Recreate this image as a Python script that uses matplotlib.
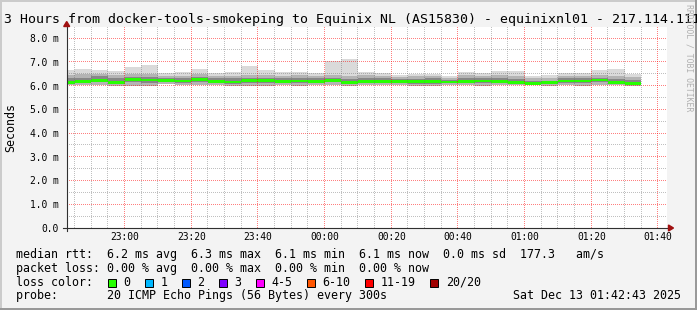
import numpy as np
import pandas as pd
import matplotlib
matplotlib.use("Agg")
from matplotlib import pyplot as plt
from matplotlib.patches import Polygon, Rectangle
from matplotlib.lines import Line2D
from matplotlib.transforms import IdentityTransform
import matplotlib.dates as mdates

W, H = 697, 310
MONO = "DejaVu Sans Mono"

# 5 minute smokeping slots (ms); the first slot starts before the window
slot_start = pd.date_range("2025-12-12 22:40", periods=35, freq="5min")
rtt_max = [6.65, 6.69, 6.65, 6.62, 6.79, 6.88, 6.51, 6.55, 6.69, 6.54,
           6.55, 6.83, 6.65, 6.55, 6.55, 6.54, 7.03, 7.12, 6.55, 6.51,
           6.44, 6.48, 6.48, 6.42, 6.57, 6.53, 6.63, 6.62, 6.41, 6.44,
           6.51, 6.51, 6.67, 6.71, 6.48]
rtt_p90 = [6.45, 6.47, 6.50, 6.45, 6.50, 6.50, 6.40, 6.42, 6.47, 6.42,
           6.40, 6.45, 6.45, 6.42, 6.43, 6.42, 6.43, 6.38, 6.43, 6.42,
           6.34, 6.38, 6.38, 6.32, 6.45, 6.42, 6.44, 6.42, 6.30, 6.33,
           6.42, 6.42, 6.43, 6.40, 6.35]
rtt_p75 = [6.30, 6.33, 6.38, 6.30, 6.37, 6.36, 6.30, 6.31, 6.37, 6.32,
           6.30, 6.33, 6.33, 6.30, 6.32, 6.30, 6.32, 6.26, 6.32, 6.30,
           6.26, 6.28, 6.30, 6.24, 6.30, 6.30, 6.30, 6.28, 6.20, 6.21,
           6.31, 6.31, 6.33, 6.27, 6.22]
rtt_med = [6.12, 6.18, 6.21, 6.14, 6.26, 6.23, 6.21, 6.19, 6.26, 6.18,
           6.15, 6.20, 6.20, 6.17, 6.19, 6.18, 6.21, 6.12, 6.18, 6.17,
           6.17, 6.16, 6.18, 6.15, 6.16, 6.19, 6.16, 6.14, 6.10, 6.11,
           6.19, 6.19, 6.23, 6.13, 6.09]
rtt_p25 = [6.07, 6.10, 6.13, 6.07, 6.14, 6.12, 6.14, 6.12, 6.15, 6.11,
           6.07, 6.10, 6.10, 6.10, 6.11, 6.11, 6.13, 6.05, 6.10, 6.10,
           6.10, 6.08, 6.08, 6.09, 6.10, 6.11, 6.10, 6.08, 6.05, 6.05,
           6.11, 6.10, 6.13, 6.06, 6.03]
rtt_min = [6.03, 6.02, 6.04, 6.00, 5.97, 5.98, 6.05, 6.04, 6.02, 6.04,
           5.99, 5.96, 6.00, 6.02, 6.00, 6.03, 6.03, 5.98, 6.02, 6.01,
           6.02, 5.99, 5.98, 6.02, 6.03, 6.00, 6.02, 6.01, 6.03, 6.00,
           6.02, 6.00, 6.02, 6.01, 5.97]

loss_labels = ["0", "1", "2", "3", "4-5", "6-10", "11-19", "20/20"]
loss_colors = ["#26ff00", "#00b8ff", "#0059ff", "#7e00ff",
               "#ff00ff", "#ff5500", "#ff0000", "#a10000"]

title = ("3 Hours from docker-tools-smokeping to Equinix NL (AS15830)"
         " - equinixnl01 - 217.114.111")
line_rtt = ("median rtt:  6.2 ms avg  6.3 ms max  6.1 ms min  6.1 ms now"
            "  0.0 ms sd  177.3   am/s")
line_loss = "packet loss: 0.00 % avg  0.00 % max  0.00 % min  0.00 % now"
line_probe = "probe:       20 ICMP Echo Pings (56 Bytes) every 300s"
stamp = "Sat Dec 13 01:42:43 2025"

t0 = pd.Timestamp("2025-12-12 22:42:43")
t1 = pd.Timestamp("2025-12-13 01:42:43")


def fx(x):
    return x / W


def fy(y):
    return 1 - y / H


fig = plt.figure(figsize=(W / 100, H / 100), dpi=100, facecolor="#f3f3f3")
ax = fig.add_axes([fx(67), fy(228), 600 / W, 201 / H])
ax.set_facecolor("white")
for s in ax.spines.values():
    s.set_visible(False)

xs = mdates.date2num(slot_start)
w = 5 / 1440
lo = np.array(rtt_min)
ax.bar(xs, np.array(rtt_max) - lo, w, bottom=lo, align="edge",
       color="#dadada", lw=0, zorder=2)
ax.bar(xs, np.array(rtt_p90) - lo, w, bottom=lo, align="edge",
       color="#b4b4b4", lw=0, zorder=2)
ax.bar(xs, np.array(rtt_p75) - np.array(rtt_p25), w, bottom=rtt_p25,
       align="edge", color="#878787", lw=0, zorder=2)
med = np.array(rtt_med)
ax.bar(xs, 0.12, w, bottom=med - 0.06, align="edge",
       color=loss_colors[0], lw=0, zorder=4)

ax.set_xlim(mdates.date2num(t0), mdates.date2num(t1))
ax.set_ylim(0, 201 / 23.75)

ax.set_yticks(range(0, 9))
ax.set_yticklabels(["0.0"] + [f"{v:.1f} m" for v in range(1, 9)],
                   family=MONO, fontsize=6.9)
xt = pd.date_range("2025-12-12 23:00", "2025-12-13 01:40", freq="20min")
ax.set_xticks(mdates.date2num(xt))
ax.set_xticklabels([t.strftime("%H:%M") for t in xt], family=MONO,
                   fontsize=6.9)
ax.tick_params(axis="y", length=0, pad=6.1)
ax.tick_params(axis="x", length=0, pad=3.0)

# dotted grid, 1 px dots on pixel centres (display coordinates)
red = (1.0, 0.0, 0.0, 0.5)
grey = (0.42, 0.42, 0.42, 0.42)
px = IdentityTransform()
dots = dict(lw=0.72, ls=(0, (1, 1)), transform=px, snap=False,
            antialiased=True, zorder=1)
for v in np.arange(0.5, 8.01, 0.5):
    yd = ax.transData.transform((xs[1], v))[1]
    yc = np.ceil(yd) - 0.5
    col = red if abs(v - round(v)) < 1e-6 else grey
    fig.add_artist(Line2D([67, 667], [yc, yc], color=col, **dots))
grid_t = pd.date_range("2025-12-12 22:45", "2025-12-13 01:40", freq="5min")
for t in grid_t:
    xd = ax.transData.transform((mdates.date2num(t), 1))[0]
    xc = np.floor(xd) + 0.5
    col = red if t.minute % 20 == 0 else grey
    fig.add_artist(Line2D([xc, xc], [H - 228, H - 27], color=col, **dots))

# axes lines and arrows
axc = "#303030"
arrow = "#a01010"
fig.add_artist(Line2D([fx(63), fx(669)], [fy(228), fy(228)], color=axc,
                      lw=0.8, zorder=2))
fig.add_artist(Line2D([fx(66.7), fx(66.7)], [fy(231), fy(25)], color=axc,
                      lw=0.8, zorder=2))
fig.add_artist(Polygon([(fx(673.5), fy(228)), (fx(668.5), fy(225)),
                        (fx(668.5), fy(231))], closed=True, color=arrow,
                       transform=fig.transFigure, zorder=2))
fig.add_artist(Polygon([(fx(66.7), fy(21.5)), (fx(63.7), fy(26.5)),
                        (fx(69.7), fy(26.5))], closed=True, color=arrow,
                       transform=fig.transFigure, zorder=2))

# texts
fig.text(fx(4), fy(23.4), title, family=MONO, fontsize=9.5, va="baseline")
fig.text(fx(10.5), fy(128), "Seconds", family=MONO, fontsize=8.4,
         rotation=90, ha="center", va="center")
fig.text(fx(689), fy(4), "RRDTOOL / TOBI OETIKER", family=MONO,
         fontsize=5.9, color="#b0b0b0", rotation=270, ha="center", va="top")

rows = [258.3, 272.0, 285.7, 299.3]
fig.text(fx(16), fy(rows[0]), line_rtt, family=MONO, fontsize=8.4,
         va="baseline")
fig.text(fx(16), fy(rows[1]), line_loss, family=MONO, fontsize=8.4,
         va="baseline")
fig.text(fx(16), fy(rows[2]), "loss color:", family=MONO, fontsize=8.4,
         va="baseline")
fig.text(fx(16), fy(rows[3]), line_probe, family=MONO, fontsize=8.4,
         va="baseline")
fig.text(fx(681), fy(rows[3]), stamp, family=MONO, fontsize=8.4,
         va="baseline", ha="right")

x = 108.0
for lab, col in zip(loss_labels, loss_colors):
    fig.add_artist(Rectangle((fx(x), fy(286.5)), 7.5 / W, 7.5 / H,
                             facecolor=col, edgecolor="black", lw=0.7,
                             transform=fig.transFigure))
    fig.text(fx(x + 15.5), fy(rows[2]), lab, family=MONO, fontsize=8.4,
             va="baseline")
    x += 15.5 + len(lab) * 7.03 + 14.5

# frame shading
fig.add_artist(Rectangle((0, fy(2)), 1, 2 / H, color="#cbcbcb", lw=0,
                         transform=fig.transFigure))
fig.add_artist(Rectangle((0, 0), 2 / W, 1, color="#cbcbcb", lw=0,
                         transform=fig.transFigure))
fig.add_artist(Rectangle((0, 0), 1, 2 / H, color="#999999", lw=0,
                         transform=fig.transFigure))
fig.add_artist(Rectangle((fx(695), 0), 2 / W, 1, color="#999999", lw=0,
                         transform=fig.transFigure))

fig.savefig("out.png", dpi=100, facecolor=fig.get_facecolor())
